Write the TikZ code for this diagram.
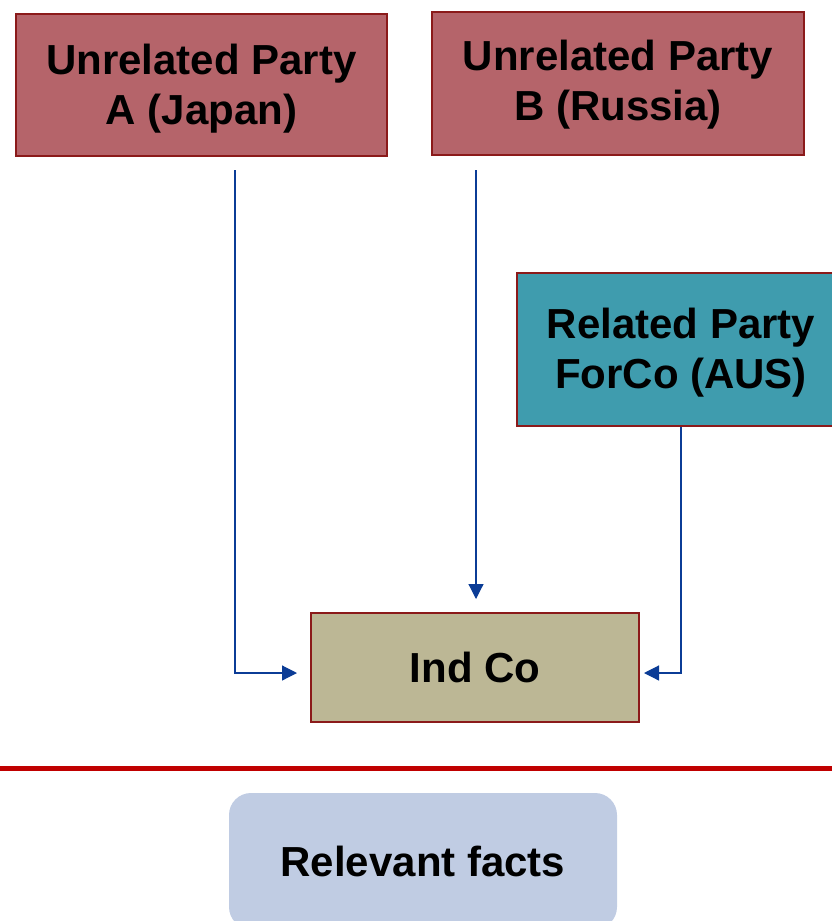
\documentclass[tikz,border=0pt]{standalone}
\usepackage{fontspec}
\setmainfont{Liberation Sans}
\usetikzlibrary{arrows.meta}
\definecolor{partyred}{HTML}{B5646A}
\definecolor{partyedge}{HTML}{8B1A1A}
\definecolor{forcoteal}{HTML}{3F9CAE}
\definecolor{indcofill}{HTML}{BCB795}
\definecolor{linkblue}{HTML}{0B3C96}
\definecolor{rulered}{HTML}{C00000}
\definecolor{factsfill}{HTML}{C0CCE3}
\tikzset{
  bigbold/.style={font=\fontsize{42}{50}\selectfont\bfseries},
  entity/.style={draw=partyedge, line width=2pt, inner sep=0pt},
  caption/.style={bigbold, align=center, inner sep=0pt},
  unrelated/.style={entity, fill=partyred},
  related/.style={entity, fill=forcoteal},
  indco/.style={entity, fill=indcofill, bigbold},
  facts/.style={fill=factsfill, rounded corners=22pt, inner sep=0pt, bigbold},
  conn/.style={draw=linkblue, line width=1.2pt,
    -{Triangle[length=15pt,width=15pt]}},
}
\begin{document}
\begin{tikzpicture}[x=1pt,y=-1pt]
\useasboundingbox (0,0) rectangle (832,921);

% parties
\node[unrelated, minimum width=371pt, minimum height=142pt,
  label={[caption, yshift=-3.5pt]center:Unrelated Party\\A (Japan)}] (ua) at (201.5,85) {};
\node[unrelated, minimum width=372pt, minimum height=143pt,
  label={[caption, yshift=-1pt]center:Unrelated Party\\B (Russia)}] (ub) at (618,83.5) {};
\node[related, minimum width=328pt, minimum height=153pt,
  label={[caption, yshift=-3pt]center:Related Party\\ForCo (AUS)}] (forco) at (681,349.5) {};
\node[indco, minimum width=328pt, minimum height=109pt] (ind) at (475,667.5)
  {Ind Co};

% flows into Ind Co
\coordinate (ua0) at (235,170);
\coordinate (ub0) at (476,170);
\coordinate (ubtip) at ([yshift=13pt]ind.north);
\draw[conn] (ua0) |- ([xshift=-13pt,yshift=-5.5pt]ind.west);
\draw[conn] (ub0) -- (ub0 |- ubtip);
\draw[conn] (forco.south) |- ([xshift=4pt,yshift=-5.5pt]ind.east);

% separator
\coordinate (sepl) at (0,768);
\coordinate (sepr) at (832,768);
\draw[rulered, line width=5pt] (sepl) -- (sepr);

% caption box
\node[facts, minimum width=388pt, minimum height=136pt] (facts) at (423,861)
  {Relevant facts};
\end{tikzpicture}
\end{document}
